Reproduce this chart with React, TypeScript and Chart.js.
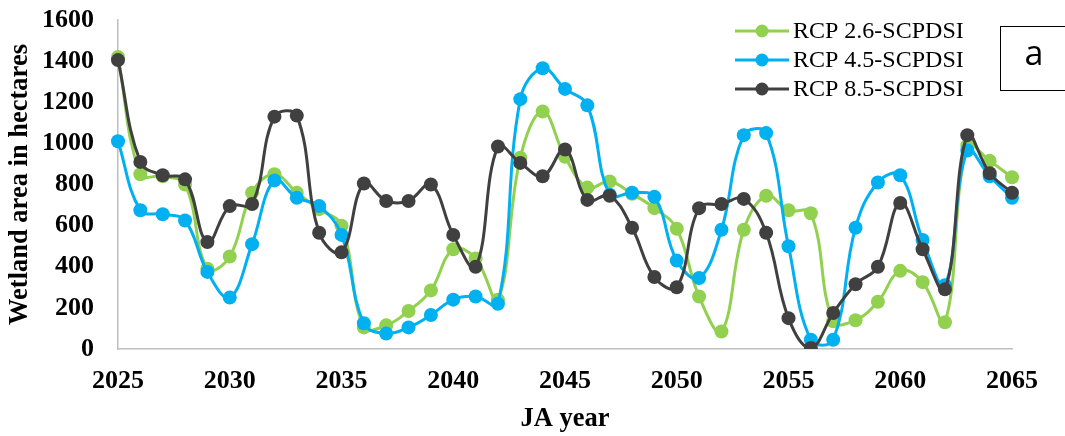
import { useEffect, useRef } from "react";
import { Chart, registerables } from "chart.js";

Chart.register(...registerables);

// Projection years (x axis categories)
const years = [
  "2025", "2026", "2027", "2028", "2029", "2030", "2031", "2032", "2033", "2034",
  "2035", "2036", "2037", "2038", "2039", "2040", "2041", "2042", "2043", "2044",
  "2045", "2046", "2047", "2048", "2049", "2050", "2051", "2052", "2053", "2054",
  "2055", "2056", "2057", "2058", "2059", "2060", "2061", "2062", "2063", "2064",
  "2065",
];

// Wetland area (hectares) per scenario
const rcp26 = [
  1420, 850, 840, 800, 390, 450, 760, 850, 760, 680,
  600, 105, 115, 185, 285, 485, 440, 240, 930, 1155,
  935, 785, 815, 755, 685, 585, 255, 85, 580, 745,
  675, 660, 135, 140, 230, 380, 325, 130, 990, 915,
  835,
];
const rcp45 = [
  1010, 675, 655, 625, 375, 250, 510, 820, 735, 695,
  555, 125, 75, 105, 165, 240, 255, 220, 1215, 1365,
  1265, 1185, 750, 760, 740, 430, 345, 580, 1040, 1050,
  500, 45, 45, 590, 810, 845, 530, 310, 965, 840,
  735,
];
const rcp85 = [
  1405, 910, 845, 825, 520, 695, 705, 1130, 1135, 565,
  470, 805, 720, 720, 800, 555, 400, 985, 905, 840,
  970, 725, 745, 590, 350, 300, 685, 705, 730, 565,
  150, 5, 175, 315, 400, 710, 485, 290, 1040, 855,
  760,
];

const seriesNames = ["RCP 2.6-SCPDSI", "RCP 4.5-SCPDSI", "RCP 8.5-SCPDSI"];
const seriesColors = ["#92D050", "#00B0F0", "#404040"];
const yMin = 0;
const yMax = 1600;
const yStep = 200;
const xTitle = "JA year";
const yTitle = "Wetland area in hectares";
const panelLabel = "a";

const serif = '"Liberation Serif", "Times New Roman", serif';

// Legend with line+marker swatches and the boxed panel letter
const overlayPlugin = {
  id: "overlay",
  afterDraw(chart: Chart) {
    const ctx = chart.ctx;
    ctx.save();
    const rowsY = [31, 60, 89];
    seriesNames.forEach((name, i) => {
      const y = rowsY[i];
      const c = seriesColors[i];
      ctx.strokeStyle = c;
      ctx.lineWidth = 3;
      ctx.beginPath();
      ctx.moveTo(735, y);
      ctx.lineTo(789, y);
      ctx.stroke();
      ctx.fillStyle = c;
      ctx.beginPath();
      ctx.arc(762, y, 6.5, 0, Math.PI * 2);
      ctx.fill();
      ctx.fillStyle = "#000";
      ctx.font = `24px ${serif}`;
      ctx.textAlign = "left";
      ctx.textBaseline = "middle";
      ctx.fillText(name, 793, y + 1);
    });
    ctx.strokeStyle = "#000";
    ctx.lineWidth = 1;
    ctx.strokeRect(1000.5, 26.5, 120, 64);
    ctx.fillStyle = "#000";
    ctx.font = '34px "Open Sans", "Liberation Sans", sans-serif';
    ctx.textAlign = "center";
    ctx.textBaseline = "alphabetic";
    ctx.fillText(panelLabel, 1034, 65);
    ctx.restore();
  },
};

export default function App() {
  const canvasRef = useRef<HTMLCanvasElement | null>(null);

  useEffect(() => {
    const canvas = canvasRef.current;
    if (!canvas) return;
    const mk = (label: string, data: number[], color: string, order: number) => ({
      label,
      data,
      borderColor: color,
      backgroundColor: color,
      pointBackgroundColor: color,
      pointBorderWidth: 0,
      pointRadius: 7,
      borderWidth: 3,
      tension: 0.4,
      order,
    });
    const chart = new Chart(canvas, {
      type: "line",
      data: {
        labels: years,
        datasets: [
          mk(seriesNames[0], rcp26, seriesColors[0], 2),
          mk(seriesNames[1], rcp45, seriesColors[1], 1),
          mk(seriesNames[2], rcp85, seriesColors[2], 0),
        ],
      },
      options: {
        responsive: false,
        animation: false,
        layout: { padding: { top: 20, right: 53, left: 0, bottom: 0 } },
        plugins: {
          legend: { display: false },
          tooltip: { enabled: false },
        },
        scales: {
          x: {
            type: "category",
            offset: false,
            grid: { display: false, drawTicks: false },
            border: { display: true, color: "#BFBFBF", width: 1.5 },
            ticks: {
              autoSkip: false,
              maxRotation: 0,
              minRotation: 0,
              padding: 17,
              color: "#000",
              font: { family: serif, size: 26, weight: "bold" },
              callback: (_v: any, i: number) =>
                Number(years[i]) % 5 === 0 ? years[i] : "",
            },
            title: {
              display: true,
              text: xTitle,
              color: "#000",
              font: { family: serif, size: 26.5, weight: "bold" },
              padding: { top: 0, bottom: 1 },
            },
            afterFit: (s: any) => {
              s.height = 87;
            },
          },
          y: {
            min: yMin,
            max: yMax,
            grid: { display: false, drawTicks: false },
            border: { display: true, color: "#BFBFBF", width: 1.5 },
            ticks: {
              stepSize: yStep,
              padding: 24,
              color: "#000",
              font: { family: serif, size: 26, weight: "bold" },
              callback: (v: any) => String(v),
            },
            title: {
              display: true,
              text: yTitle,
              color: "#000",
              font: { family: serif, size: 26.5, weight: "bold" },
              padding: { top: 4, bottom: 0 },
            },
            afterFit: (s: any) => {
              s.width = 118;
              s.paddingTop = 0;
              s.paddingBottom = 0;
            },
          },
        },
      },
      plugins: [overlayPlugin],
    } as any);
    return () => chart.destroy();
  }, []);

  return (
    <div style={{ position: "absolute", left: 0, top: 0, width: 1065, height: 436, background: "#fff" }}>
      <canvas ref={canvasRef} width={1065} height={436} style={{ display: "block" }} />
    </div>
  );
}
